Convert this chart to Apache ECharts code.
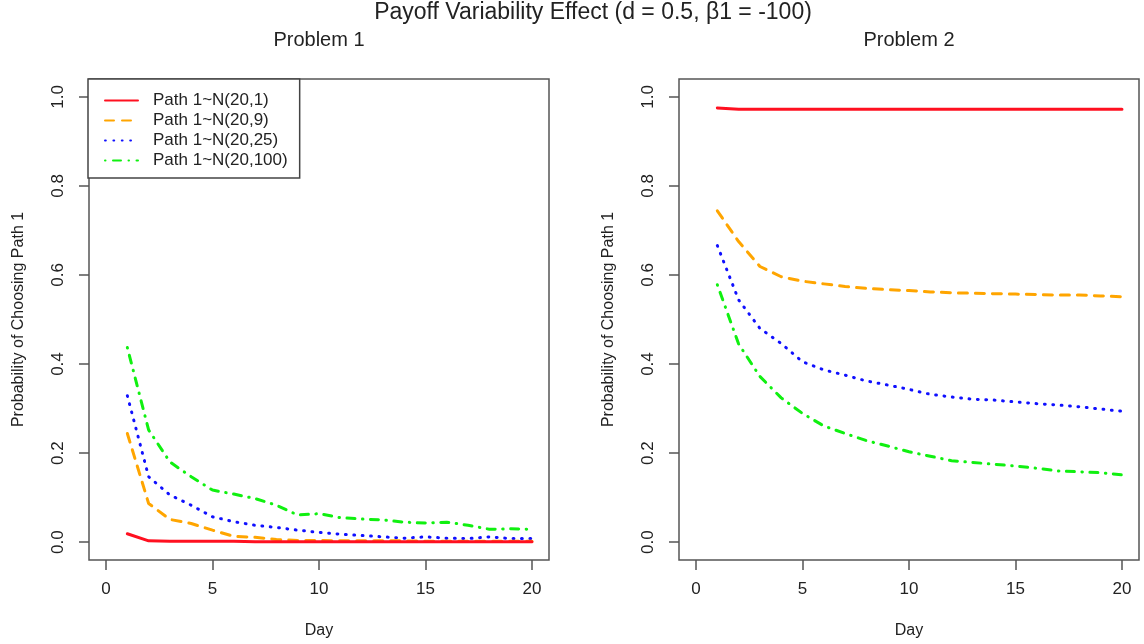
<!DOCTYPE html>
<html>
<head>
<meta charset="utf-8">
<script src="https://cdn.jsdelivr.net/npm/echarts@6/dist/echarts.min.js"></script>
<style>
	html, body { margin: 0; padding: 0; background: #fff; }
	#chart { width: 1144px; height: 644px; }
</style>
</head>
<body>
<div id="chart"></div>
<script>
	var days = [1, 2, 3, 4, 5, 6, 7, 8, 9, 10, 11, 12, 13, 14, 15, 16, 17, 18, 19, 20];

	var seriesNames = ["Path 1~N(20,1)", "Path 1~N(20,9)", "Path 1~N(20,25)", "Path 1~N(20,100)"];

	var xTicks = [0, 5, 10, 15, 20];
	var yTicks = [0, 0.2, 0.4, 0.6, 0.8, 1.0];

	/*
	 * Problem 1
	 */
	var p1N1 = [0.019, 0.003, 0.002, 0.002, 0.002, 0.002, 0.001, 0.001, 0.001, 0.001, 0.001, 0.001, 0.001, 0.001, 0.001, 0.001, 0.001, 0.001, 0.001, 0.001];
	var p1N9 = [0.244, 0.087, 0.051, 0.042, 0.027, 0.013, 0.011, 0.006, 0.004, 0.004, 0.003, 0.003, 0.003, 0.003, 0.002, 0.002, 0.002, 0.002, 0.002, 0.002];
	var p1N25 = [0.329, 0.147, 0.106, 0.083, 0.057, 0.046, 0.038, 0.033, 0.027, 0.022, 0.018, 0.015, 0.012, 0.009, 0.012, 0.009, 0.008, 0.012, 0.008, 0.008];
	var p1N100 = [0.437, 0.252, 0.180, 0.147, 0.117, 0.108, 0.098, 0.083, 0.061, 0.064, 0.055, 0.052, 0.050, 0.045, 0.043, 0.045, 0.038, 0.029, 0.030, 0.029];

	/*
	 * Problem 2
	 */
	var p2N1 = [0.975, 0.972, 0.972, 0.972, 0.972, 0.972, 0.972, 0.972, 0.972, 0.972, 0.972, 0.972, 0.972, 0.972, 0.972, 0.972, 0.972, 0.972, 0.972, 0.972];
	var p2N9 = [0.744, 0.675, 0.619, 0.596, 0.586, 0.580, 0.574, 0.570, 0.567, 0.565, 0.562, 0.560, 0.559, 0.558, 0.557, 0.556, 0.555, 0.555, 0.553, 0.551];
	var p2N25 = [0.666, 0.544, 0.480, 0.446, 0.405, 0.387, 0.375, 0.362, 0.353, 0.343, 0.332, 0.326, 0.321, 0.319, 0.315, 0.311, 0.308, 0.304, 0.299, 0.294];
	var p2N100 = [0.578, 0.445, 0.372, 0.324, 0.289, 0.261, 0.244, 0.228, 0.216, 0.203, 0.193, 0.183, 0.179, 0.175, 0.171, 0.166, 0.160, 0.158, 0.156, 0.151];

	var colors = ["#ff1020", "#ffa500", "#1010ff", "#10f010"];
	var dashes = ["solid", [9, 8], [0.8, 7.6], [0.5, 7.5, 8, 7.5]];

	var FONT = "Liberation Sans, Arial, Helvetica, sans-serif";
	var INK = "#222";
	var FRAME = "#555";

	function pairs(vals) {
		var out = [];
		for (var i = 0; i < days.length; i++) {
			out.push([days[i], vals[i]]);
		}
		return out;
	}

	function makeX(idx) {
		return {
			type: "value",
			gridIndex: idx,
			min: -0.8,
			max: 20.8,
			name: "Day",
			nameLocation: "middle",
			nameGap: 63,
			nameTextStyle: { fontFamily: FONT, fontSize: 16, color: INK },
			axisLine: { show: false, onZero: false },
			splitLine: { show: false },
			axisTick: {
				show: true,
				inside: false,
				length: 10,
				customValues: xTicks,
				lineStyle: { color: FRAME, width: 1.5 }
			},
			axisLabel: {
				customValues: xTicks,
				margin: 21,
				fontFamily: FONT,
				fontSize: 17,
				color: INK
			}
		};
	}

	function makeY(idx) {
		return {
			type: "value",
			gridIndex: idx,
			min: -0.04,
			max: 1.04,
			name: "Probability of Choosing Path 1",
			nameLocation: "middle",
			nameRotate: 90,
			nameGap: 62,
			nameTextStyle: { fontFamily: FONT, fontSize: 16, color: INK },
			axisLine: { show: false, onZero: false },
			splitLine: { show: false },
			axisTick: {
				show: true,
				inside: false,
				length: 10,
				customValues: yTicks,
				lineStyle: { color: FRAME, width: 1.5 }
			},
			axisLabel: {
				customValues: yTicks,
				rotate: 90,
				margin: 22,
				fontFamily: FONT,
				fontSize: 17,
				color: INK,
				formatter: function(v) {
					return v.toFixed(1);
				}
			}
		};
	}

	function makeSeries(idx, sets) {
		var out = [];
		for (var i = 0; i < sets.length; i++) {
			out.push({
				name: seriesNames[i],
				type: "line",
				xAxisIndex: idx,
				yAxisIndex: idx,
				symbol: "none",
				silent: true,
				z: 10 - i,
				lineStyle: {
					color: colors[i],
					width: 3,
					type: dashes[i],
					cap: "round"
				},
				itemStyle: { color: colors[i] },
				data: pairs(sets[i])
			});
		}
		return out;
	}

	function makeGrid(left) {
		return {
			left: left,
			top: 79,
			width: 460,
			height: 481,
			show: true,
			borderColor: FRAME,
			borderWidth: 1.5,
			backgroundColor: "transparent",
			outerBoundsMode: "none",
			containLabel: false
		};
	}

	var chart = echarts.init(document.getElementById("chart"), null, { renderer: "canvas" });

	chart.setOption({
		animation: false,
		backgroundColor: "#fff",
		title: [{
			text: "Payoff Variability Effect (d = 0.5, \u03b21 = -100)",
			left: 593,
			textAlign: "center",
			top: 1,
			padding: 0,
			textStyle: { fontFamily: FONT, fontSize: 23, fontWeight: "normal", color: INK }
		}, {
			text: "Problem 1",
			left: 319,
			textAlign: "center",
			top: 30,
			padding: 0,
			textStyle: { fontFamily: FONT, fontSize: 20, fontWeight: "normal", color: INK }
		}, {
			text: "Problem 2",
			left: 909,
			textAlign: "center",
			top: 30,
			padding: 0,
			textStyle: { fontFamily: FONT, fontSize: 20, fontWeight: "normal", color: INK }
		}],
		legend: {
			data: seriesNames,
			orient: "vertical",
			left: 88,
			top: 79,
			padding: [13, 12, 9, 16],
			itemWidth: 33,
			itemHeight: 14,
			itemGap: 3,
			selectedMode: false,
			backgroundColor: "#fff",
			borderColor: "#444",
			borderWidth: 1.5,
			borderRadius: 0,
			itemStyle: { opacity: 0 },
			textStyle: { fontFamily: FONT, fontSize: 17, color: INK, padding: [0, 0, 0, 10] }
		},
		grid: [makeGrid(89), makeGrid(679)],
		xAxis: [makeX(0), makeX(1)],
		yAxis: [makeY(0), makeY(1)],
		series: makeSeries(0, [p1N1, p1N9, p1N25, p1N100]).concat(makeSeries(1, [p2N1, p2N9, p2N25, p2N100]))
	});
</script>
</body>
</html>
